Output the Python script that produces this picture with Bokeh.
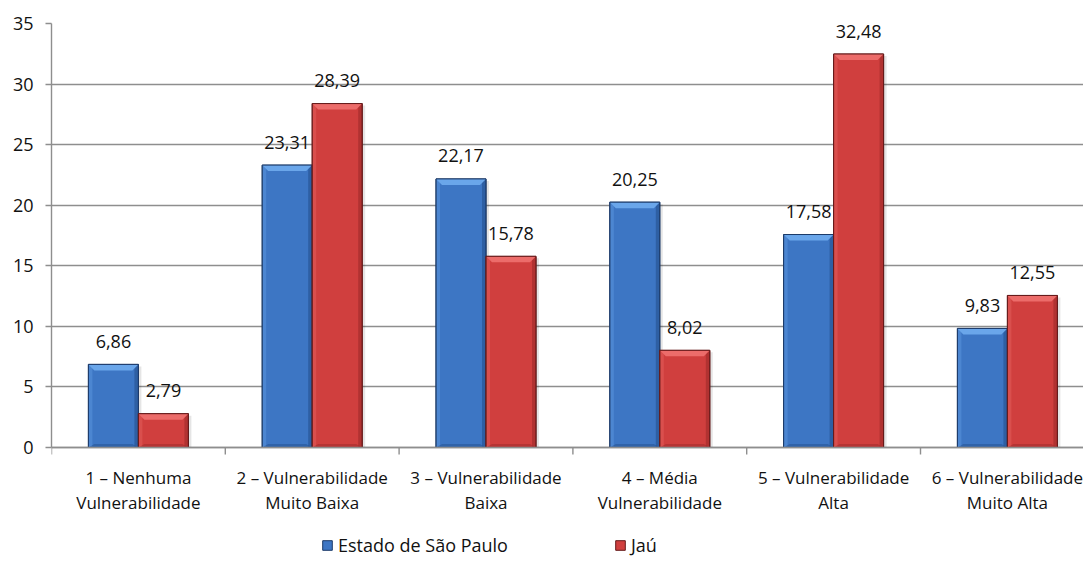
from bokeh.plotting import figure
from bokeh.models import (ColumnDataSource, FixedTicker, Legend, LegendItem, Range1d)
from bokeh.core.properties import value
from bokeh.embed import file_html
from bokeh.resources import INLINE

categories = ["1 – Nenhuma\nVulnerabilidade", "2 – Vulnerabilidade\nMuito Baixa",
              "3 – Vulnerabilidade\nBaixa", "4 – Média\nVulnerabilidade",
              "5 – Vulnerabilidade\nAlta", "6 – Vulnerabilidade\nMuito Alta"]
sao_paulo = [6.86, 23.31, 22.17, 20.25, 17.58, 9.83]
jau = [2.79, 28.39, 15.78, 8.02, 32.48, 12.55]
labels_sp = ["6,86", "23,31", "22,17", "20,25", "17,58", "9,83"]
labels_jau = ["2,79", "28,39", "15,78", "8,02", "32,48", "12,55"]
series_names = ["Estado de São Paulo", "Jaú"]
y_ticks = [0, 5, 10, 15, 20, 25, 30, 35]

FONT = "Open Sans"
FS = "18px"
FS_CAT = "17px"
TXT = "#111111"
GRID = "#8e8e8e"

W, H = 1083, 559
BL, BT = 51, 23
zero_px = 447            # canvas y of value 0
frame_w = W - BL
frame_h = H - BT
cat_px = 173.8
x_end = frame_w / cat_px
y_top = 35.0
unit_px = (zero_px - BT) / y_top
y_bot = -(H - zero_px) / unit_px

p = figure(width=W, height=H, output_backend="svg", toolbar_location=None,
           x_range=Range1d(0, x_end), y_range=Range1d(y_bot, y_top),
           x_axis_location=None,
           min_border_left=BL, min_border_right=0, min_border_top=BT,
           min_border_bottom=0)
p.outline_line_color = None
p.background_fill_color = "white"
p.border_fill_color = "white"

px_x = x_end / frame_w
px_y = 1.0 / unit_px
bw = 50 * px_x
bev_x = 6 * px_x
bev_y = 6 * px_y
strip = 4 * px_x

centers = [i + 0.5 for i in range(len(categories))]
bounds = list(range(len(categories) + 1))

# grid
p.xgrid.visible = False
p.ygrid.ticker = FixedTicker(ticks=y_ticks)
p.ygrid.grid_line_color = GRID
p.ygrid.grid_line_width = 1.4

def draw_series(vals, offset, main, light, dark, outline):
    xs = [c + offset for c in centers]
    left = [x - bw / 2 for x in xs]
    right = [x + bw / 2 for x in xs]
    zeros = [0] * len(vals)
    p.quad(left=[l + 3 * px_x for l in left], right=[r + 3 * px_x for r in right],
           bottom=zeros, top=[v - 2 * px_y for v in vals],
           fill_color="#000000", fill_alpha=0.10, line_color=None)
    r_main = p.quad(left=left, right=right, bottom=zeros, top=vals,
                    fill_color=main, line_color=outline, line_width=1)
    p.quad(left=left, right=[l + strip for l in left], bottom=zeros, top=vals,
           fill_color=light, fill_alpha=0.35, line_color=None)
    p.quad(left=[r - strip for r in right], right=right, bottom=zeros, top=vals,
           fill_color=dark, fill_alpha=0.6, line_color=None)
    p.patches(xs=[[l, r, r - bev_x, l + bev_x] for l, r in zip(left, right)],
              ys=[[0, 0, bev_y * 0.6, bev_y * 0.6] for _ in vals],
              fill_color=dark, fill_alpha=0.5, line_color=None)
    p.patches(xs=[[l, r, r - bev_x, l + bev_x] for l, r in zip(left, right)],
              ys=[[v, v, v - bev_y, v - bev_y] for v in vals],
              fill_color=light, line_color=None)
    p.quad(left=left, right=right, bottom=zeros, top=vals,
           fill_color=None, line_color=outline, line_width=1)
    return r_main

r_sp = draw_series(sao_paulo, -bw / 2, "#3d76c4", "#6aa6ea", "#24508e", "#1c3a68")
r_ja = draw_series(jau, bw / 2, "#d03f3e", "#ec6c6a", "#9c2a2a", "#641a1a")

# data labels
src_sp = ColumnDataSource(dict(x=[c - bw / 2 for c in centers], y=sao_paulo, t=labels_sp))
src_ja = ColumnDataSource(dict(x=[c + bw / 2 for c in centers], y=jau, t=labels_jau))
for src in (src_sp, src_ja):
    p.text(x="x", y="y", text="t", source=src, text_align="center",
           text_baseline="middle", y_offset=-23, text_font=value(FONT),
           text_font_size=FS, text_color=TXT)

# y axis (only spans 0..35)
p.yaxis.bounds = (0, y_top)
p.yaxis.ticker = FixedTicker(ticks=y_ticks)
p.yaxis.axis_line_color = GRID
p.yaxis.axis_line_width = 1.4
p.yaxis.major_tick_line_color = GRID
p.yaxis.major_tick_line_width = 1.4
p.yaxis.major_tick_out = 6
p.yaxis.major_tick_in = 0
p.yaxis.minor_tick_line_color = None
p.yaxis.major_label_standoff = 12
p.yaxis.major_label_text_font = FONT
p.yaxis.major_label_text_font_size = FS
p.yaxis.major_label_text_color = TXT

# category axis: line at 0, ticks at boundaries, two-line labels
p.segment(x0=[0], x1=[x_end], y0=[0], y1=[0], line_color=GRID, line_width=1.4)
p.segment(x0=bounds, x1=bounds, y0=[0] * len(bounds), y1=[-7 * px_y] * len(bounds),
          line_color=GRID, line_width=1.4)
line1 = [c.split("\n")[0] for c in categories]
line2 = [c.split("\n")[1] for c in categories]
p.text(x=centers, y=[0] * len(centers), text=line1, text_align="center",
       text_baseline="middle", y_offset=30, text_font=value(FONT),
       text_font_size=FS_CAT, text_color=TXT)
p.text(x=centers, y=[0] * len(centers), text=line2, text_align="center",
       text_baseline="middle", y_offset=55, text_font=value(FONT),
       text_font_size=FS_CAT, text_color=TXT)

# legends inside the (extended) frame
for rend, name, lx in ((r_sp, series_names[0], 272 - 2), (r_ja, series_names[1], 565 - 2)):
    lg = Legend(items=[LegendItem(label=name, renderers=[rend])],
                location=(lx, 2), orientation="horizontal",
                glyph_width=12, glyph_height=12, label_standoff=5,
                padding=2, margin=0, border_line_color=None,
                background_fill_alpha=0, label_text_font=FONT,
                label_text_font_size=FS, label_text_color=TXT,
                label_height=20)
    p.add_layout(lg, "center")

open("out.html", "w").write(file_html(p, INLINE))
